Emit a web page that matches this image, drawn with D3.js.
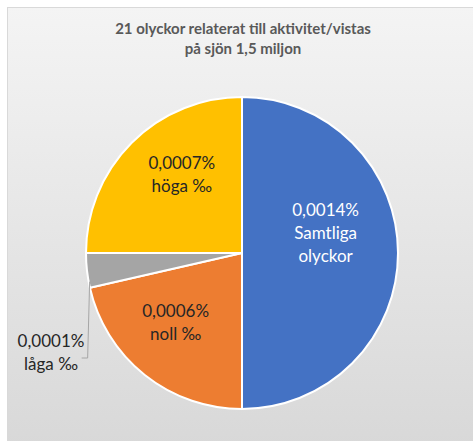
<!DOCTYPE html>
<html>
<head>
<meta charset="utf-8">
<script src="https://cdn.jsdelivr.net/npm/d3@7"></script>
<style>
html,body{margin:0;padding:0;background:#fff;}
svg{display:block;}
</style>
</head>
<body>
<div id="chart"></div>
<script>
const titleLines = ["21 olyckor relaterat till aktivitet/vistas", "på sjön 1,5 miljon"];
const categories = ["Samtliga olyckor", "noll ‰", "låga ‰", "höga ‰"];
const values = [0.0014, 0.0006, 0.0001, 0.0007];
const valueLabels = ["0,0014%", "0,0006%", "0,0001%", "0,0007%"];
const labelLines = [["Samtliga", "olyckor"], ["noll ‰"], ["låga ‰"], ["höga ‰"]];
const colors = ["#4472C4", "#ED7D31", "#A5A5A5", "#FFC000"];

const W = 473, H = 441;
const svg = d3.select("#chart").append("svg").attr("width", W).attr("height", H);

const defs = svg.append("defs");
const grad = defs.append("linearGradient").attr("id", "bg").attr("x1", 0).attr("y1", 0).attr("x2", 0).attr("y2", 1);
grad.append("stop").attr("offset", "0%").attr("stop-color", "#f4f4f4");
grad.append("stop").attr("offset", "100%").attr("stop-color", "#d8d8d8");

svg.append("rect").attr("x", 7.5).attr("y", 7.5).attr("width", W).attr("height", H)
  .attr("fill", "url(#bg)").attr("stroke", "#d9d9d9").attr("stroke-width", 1);

svg.append("g").selectAll("text").data(titleLines).join("text")
  .attr("x", 243).attr("y", (d, i) => 34 + i * 20)
  .attr("text-anchor", "middle")
  .attr("font-family", "Lato, 'Open Sans', sans-serif")
  .attr("font-weight", "bold").attr("font-size", 15)
  .attr("fill", "#595959").text(d => d);

const cx = 242, cy = 253, R = 156;
const data = categories.map((c, i) => ({ cat: c, value: values[i], vl: valueLabels[i], lines: labelLines[i], color: colors[i] }));
const pie = d3.pie().sort(null).value(d => d.value).startAngle(0).endAngle(2 * Math.PI);
const arcs = pie(data);
const arc = d3.arc().innerRadius(0).outerRadius(R);
const labelArc = d3.arc().innerRadius(R * 0.6).outerRadius(R * 0.6);

const g = svg.append("g").attr("transform", `translate(${cx},${cy})`);
g.selectAll("path").data(arcs).join("path")
  .attr("d", arc).attr("fill", d => d.data.color)
  .attr("stroke", "#fff").attr("stroke-width", 2).attr("stroke-linejoin", "round");

// label layout adjustments (px) relative to centroid
const adjust = { "Samtliga olyckor": [-10, -20], "noll ‰": [-8, -4], "höga ‰": [6, -12] };
const font = "Lato, 'Open Sans', sans-serif";

arcs.forEach(a => {
  const lines = [a.data.vl].concat(a.data.lines);
  const textColor = a.data.cat === "Samtliga olyckor" ? "#ffffff" : "#262626";
  let x, y;
  if (a.data.cat === "låga ‰") {
    // outside label with leader line
    const ang = a.startAngle + 0.04;
    const ex = Math.sin(ang) * R, ey = -Math.cos(ang) * R;
    x = -191; y = 99;
    g.append("polyline")
      .attr("points", [[ex + 1, ey], [ex - 1, y + 6], [ex - 7, y + 6]].map(p => p.join(",")).join(" "))
      .attr("fill", "none").attr("stroke", "#a6a6a6").attr("stroke-width", 1);
  } else {
    const c = labelArc.centroid(a);
    const adj = adjust[a.data.cat] || [0, 0];
    x = c[0] + adj[0]; y = c[1] + adj[1];
  }
  const lh = 23;
  const t = g.append("text").attr("text-anchor", "middle")
    .attr("font-family", font).attr("font-size", 17).attr("fill", textColor);
  lines.forEach((l, i) => {
    t.append("tspan").attr("x", x).attr("y", y + (i - (lines.length - 1) / 2) * lh + 6).text(l);
  });
});
</script>
</body>
</html>
